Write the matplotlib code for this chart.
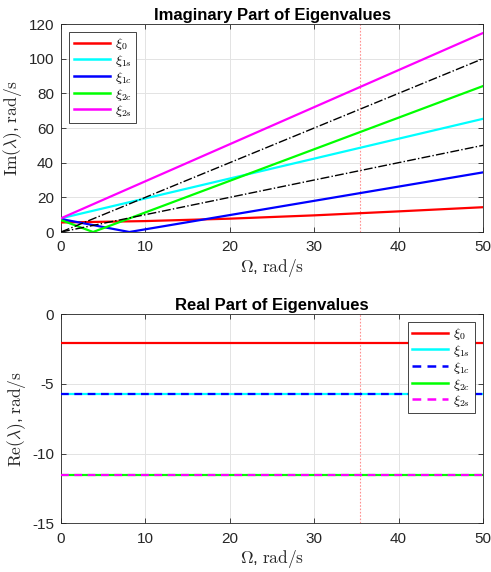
import matplotlib
matplotlib.use("Agg")
import matplotlib.pyplot as plt
import numpy as np

plt.rcParams['font.family'] = ['Liberation Sans', 'DejaVu Sans']
plt.rcParams['mathtext.fontset'] = 'cm'
plt.rcParams['axes.unicode_minus'] = False

# ---- data ----
omega_red = [0, 10, 20, 30, 40, 50]
im_xi0 = [5.5, 6.3, 7.7, 9.6, 11.9, 14.3]
omega_lin = [0, 50]
im_xi1s = [7.9, 65.3]
omega_xi1c = [0, 8.1, 50]
im_xi1c = [7.5, 0.0, 34.4]
omega_xi2c = [0, 3.8, 50]
im_xi2c = [6.9, 0.0, 84.2]
im_xi2s = [7.9, 114.8]
ref_1x = [0, 50]
ref_2x = [0, 100]
omega_crit = 35.4

re_xi0 = -2.06
re_xi1 = -5.72
re_xi2 = -11.56

labels = [r'$\xi_0$', r'$\xi_{1s}$', r'$\xi_{1c}$', r'$\xi_{2c}$', r'$\xi_{2s}$']
colors = ['#ff0000', '#00ffff', '#0000ff', '#00ff00', '#ff00ff']

fig = plt.figure(figsize=(4.91, 5.72), dpi=100)
ax1 = fig.add_axes([61/491, 1-232/572, 422/491, 208/572])
ax2 = fig.add_axes([61/491, 1-523.3/572, 422/491, 209.3/572])

lw = 1.6
ax1.plot(omega_red, im_xi0, color=colors[0], lw=lw, label=labels[0], zorder=3)
ax1.plot(omega_lin, im_xi1s, color=colors[1], lw=lw, label=labels[1], zorder=3)
ax1.plot(omega_xi1c, im_xi1c, color=colors[2], lw=lw, label=labels[2], zorder=3)
ax1.plot(omega_xi2c, im_xi2c, color=colors[3], lw=lw, label=labels[3], zorder=3)
ax1.plot(omega_lin, im_xi2s, color=colors[4], lw=lw, label=labels[4], zorder=3)
ax1.plot(omega_lin, ref_2x, color='k', lw=1.0, ls='-.', zorder=3)
ax1.plot(omega_lin, ref_1x, color='k', lw=1.0, ls='-.', zorder=3)
ax1.axvline(omega_crit, color='#ff9090', lw=0.8, ls=(0, (1.5, 1.5)), zorder=2)

xs = np.array(omega_lin)
ax2.plot(xs, [re_xi0]*2, color=colors[0], lw=lw, label=labels[0], zorder=3)
ax2.plot(xs, [re_xi1]*2, color=colors[1], lw=lw, label=labels[1], zorder=3)
ax2.plot(xs, [re_xi1]*2, color=colors[2], lw=lw, ls=(0, (3.5, 2.5)), label=labels[2], zorder=4)
ax2.plot(xs, [re_xi2]*2, color=colors[3], lw=lw, label=labels[3], zorder=3)
ax2.plot(xs, [re_xi2]*2, color=colors[4], lw=lw, ls=(0, (3.5, 2.5)), label=labels[4], zorder=4)
ax2.axvline(omega_crit, color='#ff9090', lw=0.8, ls=(0, (1.5, 1.5)), zorder=2)

for ax in (ax1, ax2):
    ax.set_xlim(0, 50)
    ax.set_xticks([0, 10, 20, 30, 40, 50])
    ax.grid(True, color='#e3e3e3', lw=0.7, zorder=0)
    ax.set_axisbelow(True)
    ax.tick_params(direction='in', length=3.5, width=0.6, colors='#262626',
                   labelsize=11, top=True, right=True)
    ax.tick_params(axis='x', pad=6)
    ax.tick_params(axis='y', pad=5)
    for s in ax.spines.values():
        s.set_color('#262626')
        s.set_linewidth(0.6)
    ax.set_xlabel(r'$\Omega$, $\mathrm{rad/s}$', fontsize=12.5, color='#262626', labelpad=2)

ax1.set_ylim(0, 120)
ax1.set_yticks([0, 20, 40, 60, 80, 100, 120])
ax1.set_ylabel(r'$\mathrm{Im}(\lambda)$, $\mathrm{rad/s}$', fontsize=12.5, color='#262626', labelpad=3)
ax1.set_title('Imaginary Part of Eigenvalues', fontsize=12, fontweight='bold', pad=3)

ax2.set_ylim(-15, 0)
ax2.set_yticks([-15, -10, -5, 0])
ax2.set_ylabel(r'$\mathrm{Re}(\lambda)$, $\mathrm{rad/s}$', fontsize=12.5, color='#262626', labelpad=3)
ax2.set_title('Real Part of Eigenvalues', fontsize=12, fontweight='bold', pad=3)

leg_kw = dict(fontsize=10, fancybox=False, edgecolor='#262626', framealpha=1,
              handlelength=2.6, handletextpad=0.4, labelspacing=0.05,
              borderpad=0.3, borderaxespad=0.6)
l1 = ax1.legend(loc='upper left', **leg_kw)
l2 = ax2.legend(loc='upper right', **leg_kw)
for l in (l1, l2):
    l.get_frame().set_linewidth(0.6)
    for h in l.get_lines():
        h.set_linewidth(1.8)

fig.savefig('out.png', dpi=100)
